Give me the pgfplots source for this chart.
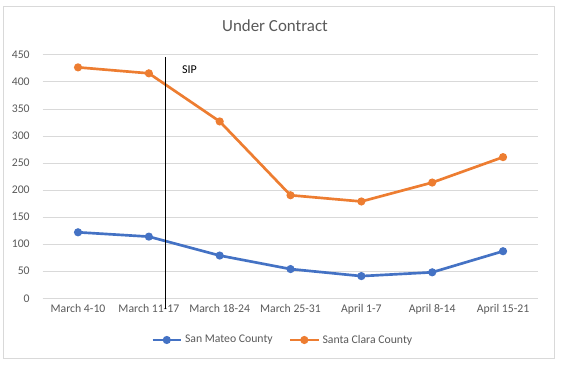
\documentclass[border=0pt]{standalone}
\usepackage{pgfplots}
\pgfplotsset{compat=1.18}
\usepackage{fontspec}
\setmainfont{Carlito}
\definecolor{cblue}{HTML}{4472C4}
\definecolor{corange}{HTML}{ED7D31}
\definecolor{ctext}{HTML}{595959}
\definecolor{cgrid}{HTML}{D9D9D9}
\begin{document}
\begin{tikzpicture}
\begin{axis}[
  at={(0,0)}, anchor=south west,
  scale only axis, width=371.9pt, height=182.5pt,
  xmin=-0.5, xmax=6.5, ymin=0, ymax=450,
  xtick={0,1,2,3,4,5,6},
  xticklabels={March 4-10, March 11-17, March 18-24, March 25-31, April 1-7, April 8-14, April 15-21},
  ytick={0,50,...,450},
  ymajorgrids, grid style={cgrid, line width=0.75pt},
  axis x line*=bottom, axis y line*=left,
  x axis line style={cgrid, line width=0.75pt, -},
  y axis line style={draw=none},
  major tick length=0pt,
  tick label style={font=\fontsize{8.8}{10}\selectfont, text=ctext, inner sep=0pt},
  yticklabel shift=9.5pt, xticklabel shift=4.5pt,
  /pgf/number format/assume math mode=true,
  clip=false,
  legend columns=2,
  legend style={at={(0.485,-0.1715)}, anchor=center, draw=none, fill=none,
    font=\fontsize{8.8}{10}\selectfont, text=ctext,
    /tikz/every even column/.append style={column sep=10pt}},
  legend image code/.code={
    \draw[#1, mark=none] (0cm,0cm) -- (0.75cm,0cm);
    \draw[#1, only marks] plot coordinates {(0.375cm,0cm)};
  },
]
\addplot[cblue, line width=2pt, mark=*, mark size=2pt] coordinates {
(0,122) (1,114) (2,79) (3,54) (4,41) (5,48) (6,87)};
\addlegendentry{San Mateo County}
\addplot[corange, line width=2pt, mark=*, mark size=2pt] coordinates {
(0,427) (1,416) (2,327) (3,190.5) (4,179) (5,214) (6,261)};
\addlegendentry{Santa Clara County}
\addplot[black, line width=0.75pt, forget plot] coordinates {(1.23,-20) (1.23,446)};
\node[anchor=west, inner sep=0pt, font=\fontsize{9}{10}\selectfont] at (axis cs:1.465,422) {SIP};
\end{axis}
\node[anchor=base, inner sep=0pt, text=ctext, font=\fontsize{12.7}{14}\selectfont] at (174.3pt,199.7pt) {Under Contract};
\draw[cgrid, line width=0.75pt] (-28.95pt,-45.5pt) rectangle (383.55pt,218.5pt);
\pgfresetboundingbox
\path (-31.95pt,-51.5pt) rectangle (389.55pt,223.7pt);
\end{tikzpicture}
\end{document}
